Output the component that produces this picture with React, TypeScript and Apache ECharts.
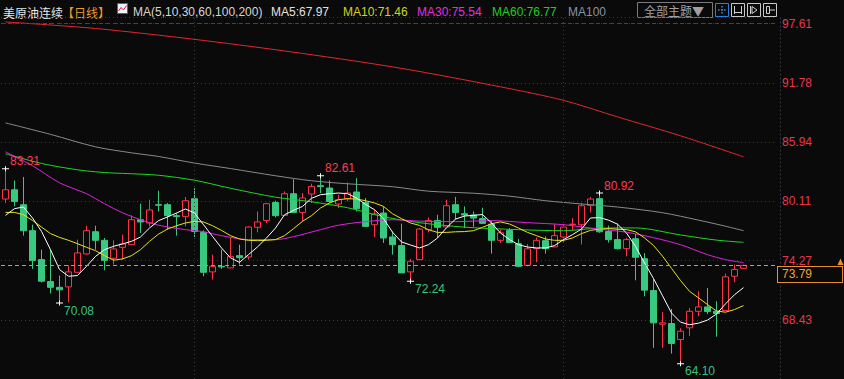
import React, { useEffect, useRef } from 'react';
import * as echarts from 'echarts';

// ---------- data ----------
const CATEGORIES: string[] = Array.from({ length: 86 }, (_, i) => 'D' + (i + 1));

// [open, close, low, high]
const CANDLES: number[][] = [
  [80.33, 81.24, 79.94, 83.31], [81.24, 80.09, 79.6, 82.16], [79.77, 77.21, 76.72, 82.5], [77.21, 74.26, 73.44, 77.8],
  [74.36, 72.23, 72.1, 75.34], [72.2, 71.63, 71.02, 75.34], [71.63, 71.38, 70.08, 72.79], [71.67, 73.15, 70.16, 73.8],
  [73.11, 75.02, 73.11, 76.33], [74.92, 77.21, 74.85, 77.7], [77.11, 76.26, 75.34, 77.7], [76.26, 74.29, 73.31, 76.49],
  [74.49, 75.41, 73.87, 76.26], [75.57, 75.9, 74.36, 76.82], [75.83, 78.29, 75.83, 78.72], [78.29, 78.07, 76.98, 79.87],
  [77.97, 79.25, 77.63, 80.26], [79.77, 79.72, 79.11, 81.15], [79.77, 78.69, 77.31, 79.94], [78.69, 78.59, 76.72, 78.95],
  [78.62, 80.16, 77.63, 80.53], [80.36, 77.14, 76.59, 81.41], [77.04, 73.11, 72.72, 77.24], [73.15, 73.7, 72.39, 74.85],
  [73.7, 73.64, 73.44, 75.34], [73.54, 74.68, 73.54, 76.49], [74.75, 74.55, 73.87, 75.83], [74.62, 77.57, 74.36, 77.63],
  [77.54, 78.07, 77.04, 79.11], [78.22, 79.87, 77.97, 79.94], [79.99, 78.69, 78.52, 80.16], [78.72, 80.85, 78.72, 81.08],
  [80.85, 79.01, 78.95, 82.29], [79.01, 80.43, 78.13, 80.92], [80.82, 81.57, 79.94, 81.84], [81.64, 81.55, 80.92, 82.61],
  [81.41, 80.09, 79.94, 82.16], [79.84, 80.26, 79.44, 80.75], [80.36, 80.92, 80.09, 81.96], [81.02, 79.38, 79.11, 82.39],
  [79.99, 77.63, 77.63, 80.43], [77.8, 78.85, 76.59, 79.28], [78.95, 76.49, 76.0, 79.6], [76.59, 75.83, 74.85, 77.14],
  [75.74, 73.05, 73.05, 77.9], [73.15, 74.19, 72.24, 74.43], [74.36, 77.37, 74.29, 77.47], [77.31, 78.22, 77.04, 78.52],
  [78.22, 77.54, 76.49, 78.78], [77.57, 79.67, 77.57, 80.26], [79.77, 79.01, 78.29, 80.53], [78.88, 78.75, 77.47, 79.6],
  [78.75, 78.45, 77.6, 79.1], [78.4, 77.93, 77.9, 79.47], [77.85, 76.26, 74.95, 78.2], [76.26, 77.0, 76.0, 77.3],
  [77.22, 76.05, 76.0, 77.47], [75.93, 73.7, 73.6, 76.39], [73.8, 75.42, 73.7, 75.9], [75.44, 76.26, 74.1, 76.55],
  [76.23, 75.44, 74.95, 76.65], [75.61, 76.72, 75.6, 77.85], [76.59, 77.57, 76.06, 77.87], [77.8, 77.85, 77.24, 78.46],
  [77.8, 79.67, 75.85, 79.94], [79.7, 80.33, 79.0, 80.53], [80.36, 77.1, 77.0, 80.92], [77.14, 76.33, 76.03, 77.7],
  [76.33, 75.44, 75.35, 77.9], [75.44, 76.33, 74.68, 76.5], [76.42, 74.59, 72.32, 76.9], [74.45, 71.35, 70.75, 75.0],
  [71.31, 68.13, 65.67, 72.46], [68.0, 68.13, 65.67, 69.2], [68.06, 66.1, 65.1, 69.5], [66.49, 67.31, 64.1, 67.6],
  [67.64, 69.27, 66.82, 69.6], [69.27, 69.7, 68.78, 71.24], [69.7, 69.24, 69.0, 71.57], [69.27, 69.05, 66.76, 70.26],
  [69.34, 72.66, 69.3, 72.98], [72.72, 73.38, 72.13, 73.87], [73.5, 73.79, 73.45, 73.85],
];

const MA5: number[] = [
  78.72, 79.38, 79.54, 78.46, 77.14, 75.34, 73.38, 72.72, 72.79, 73.7,
  74.68, 75.34, 75.67, 75.9, 76.16, 76.59, 77.47, 78.2, 78.56, 78.95,
  79.35, 78.95, 77.8, 76.65, 75.51, 74.53, 74.09, 74.85, 75.61, 76.49,
  77.47, 78.78, 79.21, 79.6, 80.4, 80.75, 80.85, 80.92, 80.85, 80.43,
  79.8, 79.28, 78.4, 77.06, 76.1, 75.8, 75.51, 75.83, 76.49, 77.5,
  78.35, 78.65, 78.72, 78.8, 77.97, 76.98, 76.33, 75.83, 75.6, 75.51,
  75.51, 75.74, 76.33, 76.82, 77.37, 78.46, 78.5, 78.25, 77.85, 76.98,
  75.67, 74.03, 72.5, 70.8, 69.1, 68.2, 67.95, 68.1, 68.4, 69.0,
  70.0, 70.9, 71.6,
];

const MA10: number[] = [
  79.01, 79.01, 78.78, 78.22, 77.57, 76.92, 76.55, 76.26, 75.93, 75.57,
  75.24, 74.75, 74.3, 74.43, 74.75, 75.34, 76.16, 76.87, 77.37, 77.7,
  77.97, 78.13, 78.07, 77.7, 77.24, 76.72, 76.39, 76.26, 76.23, 76.26,
  76.33, 76.72, 77.41, 78.13, 78.69, 79.44, 79.94, 80.26, 80.36, 80.33,
  80.16, 79.94, 79.6, 78.88, 78.4, 77.97, 77.73, 77.3, 77.04, 77.04,
  77.1, 77.12, 77.21, 77.54, 77.9, 78.07, 77.87, 77.47, 77.04, 76.72,
  76.39, 76.26, 76.26, 76.49, 76.92, 77.24, 77.36, 77.42, 77.35, 77.31,
  77.1, 76.5, 75.75, 74.7, 73.5, 72.3, 71.24, 70.59, 69.93, 69.3,
  69.18, 69.44, 69.83,
];

// [candle index, value] read at sample candles
const MA30: number[][] = [
  [0, 84.98], [3, 83.61], [6, 81.93], [9, 80.85], [11, 79.87], [13, 78.98], [15, 78.29], [17, 77.75],
  [20, 77.31], [22, 77.11], [24, 76.72], [27, 76.33], [30, 76.33], [32, 76.62], [35, 77.31], [37, 77.75],
  [40, 78.1], [43, 78.29], [46, 78.15], [50, 78.1], [54, 78.2], [58, 78.0], [62, 77.8], [66, 77.36],
  [69, 77.06], [72, 76.52], [75, 75.83], [78, 74.85], [80, 74.36], [82, 74.06],
];
const MA60: number[][] = [
  [0, 84.79], [3, 84.05], [5, 83.65], [8, 83.21], [10, 83.01], [12, 82.89], [14, 82.82], [17, 82.67],
  [21, 82.18], [25, 81.39], [30, 80.51], [34, 80.06], [38, 79.47], [42, 78.59], [46, 78.0], [51, 77.56],
  [57, 77.31], [62, 77.21], [66, 77.46], [70, 77.48], [75, 76.79], [79, 76.28], [82, 76.06],
];
const MA100: number[][] = [
  [0, 87.83], [5, 86.7], [10, 85.47], [14, 84.88], [17, 84.52], [21, 83.87], [25, 83.33], [30, 82.62],
  [34, 82.13], [38, 81.83], [43, 81.54], [47, 81.1], [52, 80.9], [56, 80.61], [60, 80.16], [64, 79.84],
  [68, 79.54], [73, 78.98], [77, 78.25], [80, 77.65], [82, 77.21],
];
const MA200: number[][] = [
  [0, 97.77], [10, 97.13], [22, 95.95], [33, 94.67], [44, 93.2], [55, 91.38], [62, 90.05], [68, 88.42],
  [75, 86.56], [82, 84.49],
];

const TICK_LABELS: number[] = [68.43, 74.27, 80.11, 85.94, 91.78, 97.61];
const LAST_PRICE = 73.79;
const MONTH_LINES: number[] = [21, 62];
const EXTREMES = [
  { idx: 0, value: 83.31, kind: 'high' },
  { idx: 35, value: 82.61, kind: 'high' },
  { idx: 66, value: 80.92, kind: 'high' },
  { idx: 6, value: 70.08, kind: 'low' },
  { idx: 45, value: 72.24, kind: 'low' },
  { idx: 75, value: 64.1, kind: 'low' },
];
const LEGEND_ITEMS = [
  { text: 'MA(5,10,30,60,100,200)', x: 133, color: '#d6d6d6' },
  { text: 'MA5:67.97', x: 271, color: '#e2e2e2' },
  { text: 'MA10:71.46', x: 343, color: '#d2d21e' },
  { text: 'MA30:75.54', x: 417, color: '#e030e0' },
  { text: 'MA60:76.77', x: 492, color: '#22cc22' },
  { text: 'MA100', x: 568, color: '#8593a3' },
];

// ---------- styles ----------
const BG = '#0a0a0a';
const UP = '#ff3348';
const DOWN = '#38c880';
const GRID_LINE = '#3a3a3a';
const LATIN = '"Liberation Sans", Arial, sans-serif';
const CJK = '"Noto Sans CJK SC", sans-serif';
const CROSS = 'path://M0,2H7V3H0Z M3,0H4V5H3Z';

function lineSeries(name: string, data: any[], color: string, smooth: number | boolean) {
  return {
    name,
    type: 'line',
    data,
    symbol: 'none',
    smooth,
    silent: true,
    lineStyle: { color, width: 1 },
    z: 3,
  };
}

export default function App() {
  const ref = useRef<HTMLDivElement>(null);

  useEffect(() => {
    if (!ref.current) return;
    document.body.style.background = BG;
    const chart = echarts.init(ref.current, undefined, { renderer: 'svg' });

    const graphic: any[] = [
      { type: 'text', x: 3, y: 12, style: { text: '美原油连续', fill: '#e6e6e6', font: '12px ' + CJK, verticalAlign: 'middle' } },
      { type: 'text', x: 62, y: 12, style: { text: '【日线】', fill: '#e89a2c', font: '12px ' + CJK, verticalAlign: 'middle' } },
      { type: 'rect', shape: { x: 117.5, y: 3.5, width: 10, height: 10 }, style: { fill: '#eef2ff', stroke: '#3d5fc4', lineWidth: 1 } },
      { type: 'polyline', shape: { points: [[118.5, 11], [121, 7.5], [123.5, 10], [126.5, 5.5]] }, style: { stroke: '#e02020', lineWidth: 1, fill: 'none' } },
      ...LEGEND_ITEMS.map((it) => ({
        type: 'text', x: it.x, y: 12,
        style: { text: it.text, fill: it.color, font: '12px ' + LATIN, verticalAlign: 'middle' },
      })),
      { type: 'rect', shape: { x: 637.5, y: 2.5, width: 75, height: 15 }, style: { fill: 'none', stroke: '#7a7a7a', lineWidth: 1 } },
      { type: 'text', x: 644, y: 10.5, style: { text: '全部主题▼', fill: '#a0a0a0', font: '12px ' + CJK, verticalAlign: 'middle' } },
      // tool buttons
      { type: 'rect', shape: { x: 715.5, y: 3.5, width: 13, height: 13 }, style: { fill: 'none', stroke: '#2a7fd6', lineWidth: 1 } },
      { type: 'line', shape: { x1: 722, y1: 6, x2: 722, y2: 14 }, style: { stroke: '#3a8ae6', lineWidth: 1.5, lineDash: [1.5, 1.5] } },
      { type: 'line', shape: { x1: 718, y1: 10, x2: 726, y2: 10 }, style: { stroke: '#3a8ae6', lineWidth: 1.5, lineDash: [1.5, 1.5] } },
      { type: 'rect', shape: { x: 731.5, y: 3.5, width: 13, height: 13 }, style: { fill: 'none', stroke: '#c8c8c8', lineWidth: 1 } },
      { type: 'line', shape: { x1: 734.5, y1: 6, x2: 734.5, y2: 14 }, style: { stroke: '#d0d0d0', lineWidth: 1 } },
      { type: 'line', shape: { x1: 741.5, y1: 6, x2: 741.5, y2: 14 }, style: { stroke: '#d0d0d0', lineWidth: 1 } },
      { type: 'line', shape: { x1: 734.5, y1: 12.5, x2: 741.5, y2: 12.5 }, style: { stroke: '#d0d0d0', lineWidth: 1 } },
      { type: 'rect', shape: { x: 747.5, y: 3.5, width: 13, height: 13 }, style: { fill: 'none', stroke: '#c8c8c8', lineWidth: 1 } },
      { type: 'line', shape: { x1: 750.5, y1: 6, x2: 750.5, y2: 14 }, style: { stroke: '#d0d0d0', lineWidth: 1 } },
      { type: 'polygon', shape: { points: [[752, 6.5], [757, 10], [752, 13.5]] }, style: { fill: 'none', stroke: '#d0d0d0', lineWidth: 1 } },
      { type: 'rect', shape: { x: 763.5, y: 3.5, width: 13, height: 13 }, style: { fill: 'none', stroke: '#c8c8c8', lineWidth: 1 } },
      { type: 'rect', shape: { x: 766.5, y: 6.5, width: 3, height: 7 }, style: { fill: 'none', stroke: '#d0d0d0', lineWidth: 1 } },
      { type: 'polyline', shape: { points: [[770, 10], [775, 10]] }, style: { stroke: '#d0d0d0', lineWidth: 1 } },
      { type: 'polygon', shape: { points: [[837.5, 265], [840.5, 258.5], [843.5, 265]] }, style: { fill: '#e8902a' } },
    ];

    const option: any = {
      animation: false,
      backgroundColor: BG,
      grid: { left: 1, right: 69, top: 17, bottom: 0, containLabel: false },
      xAxis: {
        type: 'category',
        data: CATEGORIES,
        boundaryGap: true,
        axisLine: { show: false },
        axisTick: { show: false },
        axisLabel: { show: false },
        splitLine: { show: false },
      },
      yAxis: {
        type: 'value',
        position: 'right',
        min: 62.5985,
        max: 98.26,
        interval: 5.8355,
        offset: 5,
        axisLine: { show: true, lineStyle: { color: GRID_LINE, type: [1, 3] } },
        axisTick: { show: false },
        axisLabel: {
          margin: 2,
          color: '#e8364a',
          fontSize: 12,
          fontFamily: LATIN,
          formatter: (v: number) => {
            const m = TICK_LABELS.find((t) => Math.abs(t - v) < 0.05);
            return m !== undefined ? m.toFixed(2) : '';
          },
        },
        splitLine: { show: true, lineStyle: { color: GRID_LINE, type: [1, 3], width: 1 } },
      },
      graphic,
      series: [
        {
          name: 'K',
          type: 'candlestick',
          data: CANDLES,
          barWidth: 6,
          silent: true,
          itemStyle: { color: BG, color0: DOWN, borderColor: UP, borderColor0: DOWN, borderWidth: 1 },
          markLine: {
            silent: true,
            symbol: ['none', 'none'],
            animation: false,
            data: [
              {
                yAxis: TICK_LABELS[TICK_LABELS.length - 1],
                lineStyle: { color: '#444444', type: [4, 3], width: 1 },
                label: { show: false },
              },
              ...MONTH_LINES.map((i) => ({
                xAxis: i,
                lineStyle: { color: GRID_LINE, type: [1, 3], width: 1 },
                label: { show: false },
              })),
              {
                yAxis: LAST_PRICE,
                lineStyle: { color: '#e8902a', type: [4, 3], width: 1 },
                label: {
                  show: true,
                  position: 'end',
                  distance: 3,
                  formatter: LAST_PRICE.toFixed(2),
                  color: '#eda33a',
                  fontSize: 12,
                  fontFamily: LATIN,
                  backgroundColor: BG,
                  borderColor: '#e8902a',
                  borderWidth: 1,
                  padding: [2, 30, 1, 4],
                  offset: [0, 9],
                },
              },
            ],
          },
          markPoint: {
            silent: true,
            animation: false,
            data: EXTREMES.map((e) => ({
              coord: [e.idx, e.value],
              value: e.value,
              symbol: CROSS,
              symbolSize: [7, 5],
              itemStyle: { color: '#ffffff' },
              label: {
                show: true,
                position: 'right',
                distance: 1,
                offset: [0, e.kind === 'high' ? -7.5 : 7.5],
                formatter: e.value.toFixed(2),
                color: e.kind === 'high' ? '#ff3a55' : '#3cc080',
                fontSize: 12,
                fontFamily: LATIN,
              },
            })),
          },
        },
        lineSeries('MA200', MA200, '#e0282c', 0.3),
        lineSeries('MA100', MA100, '#8a8a8a', 0.3),
        lineSeries('MA60', MA60, '#1ed81e', 0.3),
        lineSeries('MA30', MA30, '#de22de', 0.3),
        lineSeries('MA10', MA10, '#e4e41c', false),
        lineSeries('MA5', MA5, '#ffffff', false),
      ],
    };

    chart.setOption(option);
    return () => {
      chart.dispose();
    };
  }, []);

  return (
    <div
      ref={ref}
      style={{ position: 'absolute', left: 0, top: 0, width: 844, height: 379, background: BG }}
    />
  );
}
